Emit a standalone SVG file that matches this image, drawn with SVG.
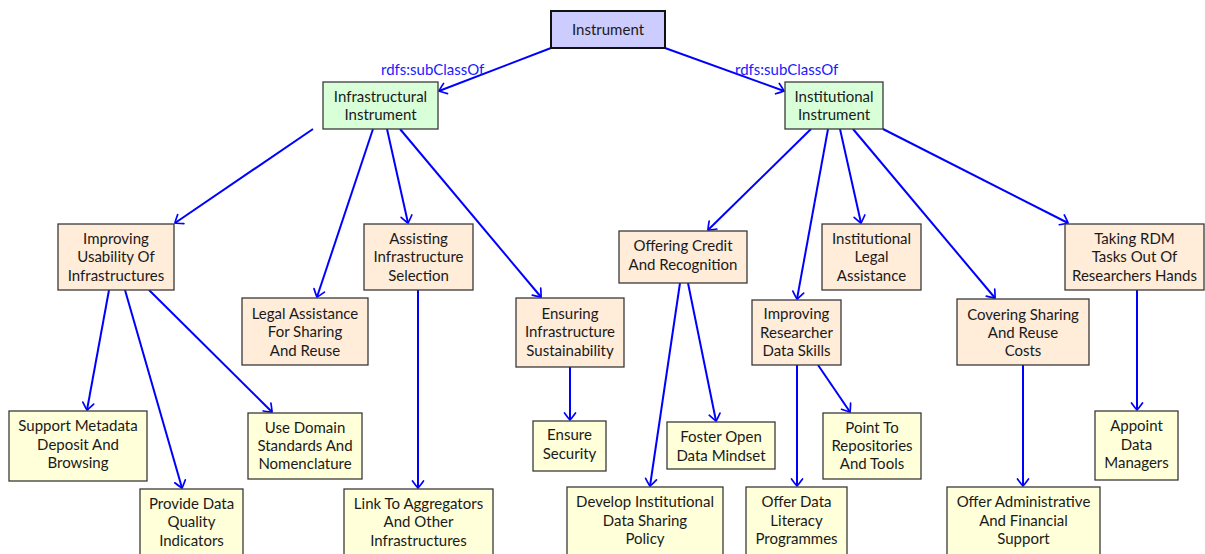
<svg xmlns="http://www.w3.org/2000/svg" width="1205" height="554" viewBox="0 0 1205 554">
<style>
rect{stroke:#3a3a3a;stroke-width:1.3}
.top{fill:#ccccff;stroke:#111;stroke-width:2}
.g{fill:#d9ffd9}
.o{fill:#ffecd9}
.y{fill:#ffffd9}
text{font-family:Lato,"Open Sans",sans-serif;font-size:15px;fill:#1a1a1a;text-anchor:middle}
.lbl{fill:#1a1aff;text-anchor:start}
#edges line{stroke:#0000ff;stroke-width:2;marker-end:url(#to)}
</style>
<defs>
<marker id="to" viewBox="-9 -7 11 14" refX="0" refY="0" markerWidth="11" markerHeight="14" markerUnits="userSpaceOnUse" orient="auto">
<path d="M-7,-5.5 Q-1.5,-1.5 0,0 Q-1.5,1.5 -7,5.5" fill="none" stroke="#0000ff" stroke-width="1.7" stroke-linecap="round"/>
</marker>
</defs>
<rect width="1205" height="554" fill="#fff" style="stroke:none"/>
<g id="edges">
<line x1="551" y1="48" x2="439" y2="91"/>
<line x1="665" y1="48" x2="784" y2="91"/>
<line x1="313" y1="129" x2="175" y2="223"/>
<line x1="373" y1="129" x2="317" y2="297"/>
<line x1="387" y1="129" x2="408" y2="223"/>
<line x1="400" y1="129" x2="541" y2="297"/>
<line x1="811" y1="129" x2="708" y2="230"/>
<line x1="828" y1="129" x2="797" y2="299"/>
<line x1="840" y1="129" x2="861" y2="223"/>
<line x1="853" y1="129" x2="995" y2="298"/>
<line x1="883" y1="129" x2="1068" y2="223"/>
<line x1="109" y1="290" x2="87" y2="410"/>
<line x1="125" y1="290" x2="182" y2="488"/>
<line x1="149" y1="290" x2="272" y2="412"/>
<line x1="418" y1="290" x2="418" y2="488"/>
<line x1="570" y1="367" x2="570" y2="420"/>
<line x1="680" y1="283" x2="650" y2="486"/>
<line x1="688" y1="283" x2="716" y2="421"/>
<line x1="797" y1="365" x2="797" y2="486"/>
<line x1="818" y1="365" x2="850" y2="412"/>
<line x1="1023" y1="365" x2="1023" y2="486"/>
<line x1="1137" y1="290" x2="1137" y2="410"/>
<text class="lbl" x="381" y="75">rdfs:subClassOf</text>
<text class="lbl" x="735" y="75">rdfs:subClassOf</text>
</g>
<g id="instrument"><rect class="top" x="551" y="11" width="114" height="37"/><text x="608" y="35">Instrument</text></g>
<g id="infrastructural"><rect class="g" x="323" y="82" width="115" height="47"/><text x="380.5" y="102">Infrastructural</text><text x="380.5" y="120">Instrument</text></g>
<g id="institutional"><rect class="g" x="785" y="82" width="98" height="47"/><text x="834" y="102">Institutional</text><text x="834" y="120">Instrument</text></g>
<g id="improving-usability"><rect class="o" x="58" y="224" width="116" height="66"/><text x="116" y="244">Improving</text><text x="116" y="262">Usability Of</text><text x="116" y="281">Infrastructures</text></g>
<g id="legal-assistance"><rect class="o" x="242" y="298" width="126" height="67"/><text x="305" y="319">Legal Assistance</text><text x="305" y="337">For Sharing</text><text x="305" y="356">And Reuse</text></g>
<g id="assisting"><rect class="o" x="364" y="224" width="109" height="66"/><text x="418.5" y="244">Assisting</text><text x="418.5" y="262">Infrastructure</text><text x="418.5" y="281">Selection</text></g>
<g id="ensuring"><rect class="o" x="516" y="298" width="108" height="69"/><text x="570" y="319">Ensuring</text><text x="570" y="337">Infrastructure</text><text x="570" y="356">Sustainability</text></g>
<g id="offering-credit"><rect class="o" x="619" y="231" width="128" height="52"/><text x="683" y="251">Offering Credit</text><text x="683" y="270">And Recognition</text></g>
<g id="improving-researcher"><rect class="o" x="752" y="300" width="89" height="65"/><text x="796.5" y="319">Improving</text><text x="796.5" y="338">Researcher</text><text x="796.5" y="356">Data Skills</text></g>
<g id="institutional-legal"><rect class="o" x="822" y="224" width="99" height="66"/><text x="871.5" y="244">Institutional</text><text x="871.5" y="262">Legal</text><text x="871.5" y="281">Assistance</text></g>
<g id="covering"><rect class="o" x="957" y="299" width="132" height="66"/><text x="1023" y="320">Covering Sharing</text><text x="1023" y="338">And Reuse</text><text x="1023" y="356">Costs</text></g>
<g id="taking-rdm"><rect class="o" x="1065" y="224" width="139" height="66"/><text x="1134.5" y="244">Taking RDM</text><text x="1134.5" y="262">Tasks Out Of</text><text x="1134.5" y="281">Researchers Hands</text></g>
<g id="support-metadata"><rect class="y" x="9" y="411" width="138" height="70"/><text x="78" y="431">Support Metadata</text><text x="78" y="450">Deposit And</text><text x="78" y="468">Browsing</text></g>
<g id="provide-data"><rect class="y" x="140" y="489" width="103" height="70"/><text x="191.5" y="509">Provide Data</text><text x="191.5" y="527">Quality</text><text x="191.5" y="546">Indicators</text></g>
<g id="use-domain"><rect class="y" x="248" y="413" width="114" height="66"/><text x="305" y="433">Use Domain</text><text x="305" y="451">Standards And</text><text x="305" y="469">Nomenclature</text></g>
<g id="link-aggregators"><rect class="y" x="344" y="489" width="149" height="70"/><text x="418.5" y="509">Link To Aggregators</text><text x="418.5" y="527">And Other</text><text x="418.5" y="546">Infrastructures</text></g>
<g id="ensure-security"><rect class="y" x="533" y="421" width="73" height="50"/><text x="569.5" y="440">Ensure</text><text x="569.5" y="459">Security</text></g>
<g id="foster-open"><rect class="y" x="667" y="422" width="108" height="47"/><text x="721" y="442">Foster Open</text><text x="721" y="461">Data Mindset</text></g>
<g id="develop-policy"><rect class="y" x="567" y="487" width="156" height="72"/><text x="645" y="507">Develop Institutional</text><text x="645" y="526">Data Sharing</text><text x="645" y="544">Policy</text></g>
<g id="offer-literacy"><rect class="y" x="746" y="487" width="101" height="72"/><text x="796.5" y="507">Offer Data</text><text x="796.5" y="526">Literacy</text><text x="796.5" y="544">Programmes</text></g>
<g id="point-to"><rect class="y" x="823" y="413" width="98" height="66"/><text x="872" y="433">Point To</text><text x="872" y="451">Repositories</text><text x="872" y="469">And Tools</text></g>
<g id="offer-admin"><rect class="y" x="947" y="487" width="153" height="72"/><text x="1023.5" y="507">Offer Administrative</text><text x="1023.5" y="526">And Financial</text><text x="1023.5" y="544">Support</text></g>
<g id="appoint"><rect class="y" x="1095" y="411" width="83" height="69"/><text x="1136.5" y="431">Appoint</text><text x="1136.5" y="450">Data</text><text x="1136.5" y="468">Managers</text></g>
</svg>
